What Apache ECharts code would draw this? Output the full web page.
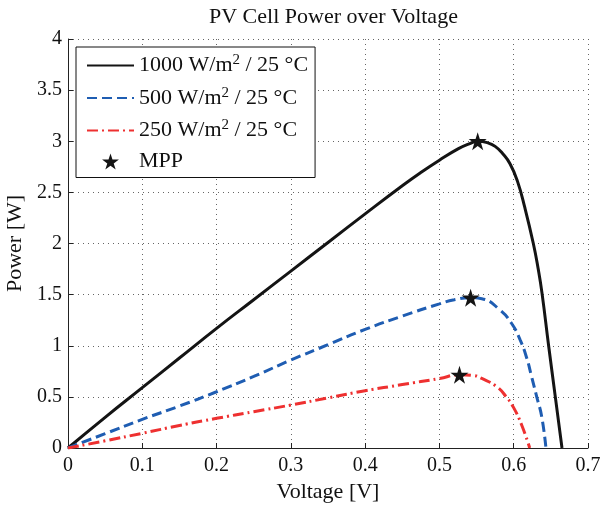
<!DOCTYPE html>
<html>
<head>
<meta charset="utf-8">
<script src="https://cdn.jsdelivr.net/npm/echarts@6/dist/echarts.min.js"></script>
<style>html,body{margin:0;padding:0;background:#fff;}#c{width:602px;height:506px;}</style>
</head>
<body>
<div id="c"></div>
<script>
// ---- data ----
var v1000 = [0,0.05,0.1,0.15,0.2,0.25,0.3,0.35,0.4,0.45,0.475,0.5,0.525,0.54,0.5515,0.565,0.575,0.585,0.595,0.605,0.615,0.6264,0.633,0.638,0.647,0.656,0.665];
var p1000 = [0,0.30,0.59,0.88,1.17,1.45,1.73,2.01,2.29,2.565,2.695,2.815,2.925,2.975,3.0,2.985,2.95,2.88,2.78,2.61,2.35,2.0,1.75,1.52,1.0,0.5,0];
var v500 = [0,0.05,0.1,0.15,0.2,0.25,0.3,0.35,0.4,0.45,0.5,0.52,0.542,0.557,0.5815,0.597,0.6085,0.6175,0.624,0.631,0.6376,0.6434];
var p500 = [0,0.14,0.28,0.41,0.55,0.70,0.86,1.01,1.16,1.29,1.41,1.45,1.47,1.46,1.35,1.22,1.06,0.88,0.70,0.50,0.31,0];
var v250 = [0,0.05,0.1,0.15,0.2,0.25,0.3,0.35,0.4,0.45,0.5,0.527,0.545,0.557,0.577,0.59,0.5995,0.6107,0.6215];
var p250 = [0,0.07,0.144,0.22,0.29,0.355,0.42,0.49,0.56,0.62,0.68,0.716,0.71,0.68,0.60,0.50,0.40,0.225,0];
var mppV = [0.5515,0.542,0.527];
var mppP = [3.0,1.47,0.716];
var seriesNames = ['1000 W/m2 / 25 °C','500 W/m2 / 25 °C','250 W/m2 / 25 °C','MPP'];
var xAxisRange = [0,0.7,0.1];
var yAxisRange = [0,4,0.5];

function pairs(xs, ys){ return xs.map(function(x,i){ return [x, ys[i]]; }); }

var FONT = "'Liberation Serif','Times New Roman',serif";
var STAR = 'path://M50,0 L61.2,34.5 L97.6,34.5 L68.2,55.9 L79.4,90.5 L50,69.1 L20.6,90.5 L31.8,55.9 L2.4,34.5 L38.8,34.5 Z';

var chart = echarts.init(document.getElementById('c'), null, {renderer:'canvas'});
var axisCommon = {
  axisLine:{show:true, onZero:false, lineStyle:{color:'#222', width:1}},
  axisTick:{show:true, inside:true, length:5, lineStyle:{color:'#222'}},
  splitLine:{show:true, lineStyle:{color:'#666', width:1, type:[1,4]}},
  axisLabel:{color:'#111', fontFamily:FONT, fontSize:20},
  nameTextStyle:{color:'#111', fontFamily:FONT, fontSize:22},
  nameLocation:'middle'
};
chart.setOption({
  animation:false,
  backgroundColor:'#fff',
  title:{text:'PV Cell Power over Voltage', left:204, top:1,
    textStyle:{fontFamily:FONT, fontSize:22, fontWeight:'normal', color:'#111'}},
  grid:{left:68, right:14, top:39, bottom:58, containLabel:false, outerBoundsMode:'none'},
  xAxis:Object.assign({}, axisCommon, {type:'value', min:xAxisRange[0], max:xAxisRange[1], interval:xAxisRange[2],
    name:'Voltage [V]', nameGap:31,
    axisLabel:Object.assign({}, axisCommon.axisLabel, {margin:8})}),
  yAxis:Object.assign({}, axisCommon, {type:'value', min:yAxisRange[0], max:yAxisRange[1], interval:yAxisRange[2],
    name:'Power [W]', nameGap:35,
    axisLabel:Object.assign({}, axisCommon.axisLabel, {margin:6})}),
  legend:{
    orient:'vertical', left:76, top:47,
    padding:[6,7,5,10], itemGap:7.5, itemWidth:47, itemHeight:16,
    backgroundColor:'#fff', borderColor:'#111', borderWidth:1, borderRadius:0,
    data:[
      {name:seriesNames[0], itemStyle:{opacity:0}},
      {name:seriesNames[1], itemStyle:{opacity:0}},
      {name:seriesNames[2], itemStyle:{opacity:0}},
      {name:seriesNames[3]}
    ],
    formatter:function(n){ return n.replace('m2','m{sup|2}'); },
    textStyle:{fontFamily:FONT, fontSize:22, color:'#111', lineHeight:19,
      rich:{sup:{fontFamily:FONT, fontSize:15, verticalAlign:'top', lineHeight:25, color:'#111'}}}
  },
  series:[
    {name:seriesNames[0], type:'line', data:pairs(v1000,p1000), showSymbol:false, symbol:'none', smooth:0.5,
      lineStyle:{color:'#141414', width:3, type:'solid'}, itemStyle:{color:'#141414'}, z:3},
    {name:seriesNames[1], type:'line', data:pairs(v500,p500), showSymbol:false, symbol:'none', smooth:0.5,
      lineStyle:{color:'#1f5db2', width:3, type:[10,5]}, itemStyle:{color:'#1f5db2'}, z:3},
    {name:seriesNames[2], type:'line', data:pairs(v250,p250), showSymbol:false, symbol:'none', smooth:0.5,
      lineStyle:{color:'#ee3030', width:3, type:[11,4,2,4]}, itemStyle:{color:'#ee3030'}, z:3},
    {name:seriesNames[3], type:'scatter', data:pairs(mppV,mppP), symbol:STAR, symbolSize:18,
      itemStyle:{color:'#141414', opacity:1}, z:5}
  ]
});
</script>
</body>
</html>
